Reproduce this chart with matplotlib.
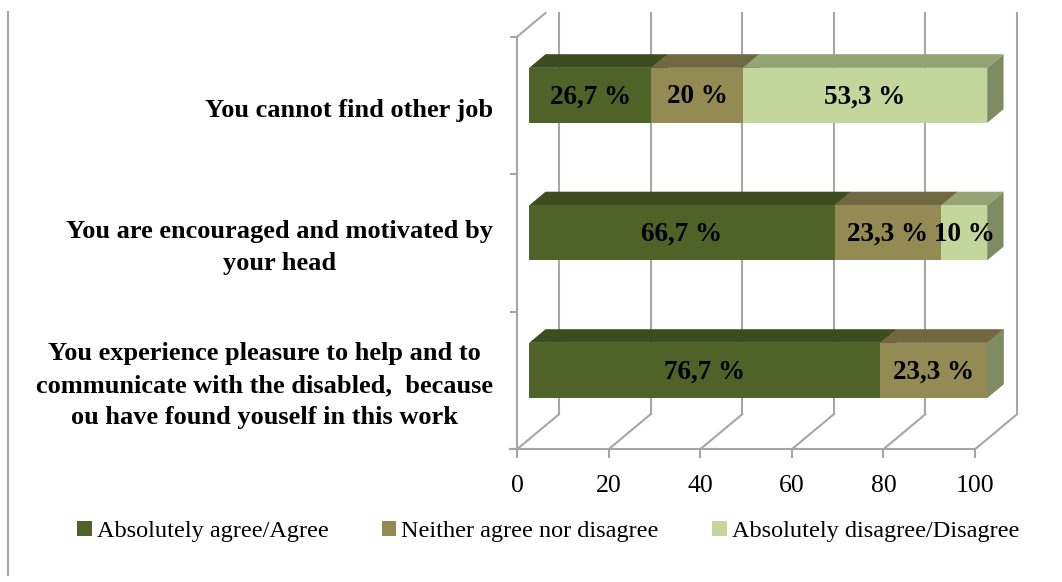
import matplotlib.pyplot as plt
from matplotlib.patches import Polygon
import numpy as np

plt.rcParams['font.family'] = ['Liberation Serif', 'DejaVu Serif']

# categories from bottom to top
categories = [
    "You experience pleasure to help and to\ncommunicate with the disabled,  because\nou have found youself in this work",
    "You are encouraged and motivated by\nyour head",
    "You cannot find other job",
]
series = ["Absolutely agree/Agree", "Neither agree nor disagree", "Absolutely disagree/Disagree"]
agree = [76.7, 66.7, 26.7]
neutral = [23.3, 23.3, 20.0]
disagree = [0.0, 10.0, 53.3]
ticks = [0, 20, 40, 60, 80, 100]

front_colors = ["#4F6228", "#948A54", "#C3D69B"]
top_colors = ["#3E4D20", "#706841", "#95A474"]
side_colors = ["#3A481E", "#6A623D", "#7F8C62"]
grid_color = "#A6A6A6"

# oblique depth: full depth shifts x by DX value units and y by DY category units
DX = 42 / 4.58
DY = 35 / 137.5
D0, D1 = 0.29, 0.68
BAR_H = 0.4

fig = plt.figure(figsize=(10.62, 5.82), dpi=100)
ax = fig.add_axes([0, 0, 1, 1])
ax.set_xlim(-517 / 4.58, (1062 - 517) / 4.58)
ax.set_ylim((380.5 - 582) / 137.5, 380.5 / 137.5)
ax.axis('off')

y_top = (380.5 - 13) / 137.5  # top edge of the plot area
floor = -0.5
lw = 1.5

# floor diagonals and back wall gridlines
for t in ticks:
    ax.plot([t, t + DX], [floor, floor + DY], color=grid_color, lw=lw, zorder=1)
    ax.plot([t + DX, t + DX], [floor + DY, y_top], color=grid_color, lw=lw, zorder=1)
    ax.plot([t, t], [floor, floor - 8 / 137.5], color=grid_color, lw=lw, zorder=1)
    ax.text(t, (380.5 - 486) / 137.5, str(t), ha='center', va='center', fontsize=18.5)

# front floor edge and left axis
ax.plot([-1.6, 100], [floor, floor], color=grid_color, lw=lw, zorder=1)
ax.plot([0, 0], [floor, len(categories) - 0.5], color=grid_color, lw=lw, zorder=1)
for c in np.arange(len(categories) + 1) - 0.5:
    ax.plot([-1.4, 0], [c, c], color=grid_color, lw=lw, zorder=1)
d_clip = (y_top - (len(categories) - 0.5)) / DY
ax.plot([0, DX * d_clip], [len(categories) - 0.5, y_top], color=grid_color, lw=lw, zorder=1)

ypos = np.arange(len(categories))
values = [agree, neutral, disagree]
left = np.zeros(len(categories))
handles = []
for i, vals in enumerate(values):
    vals = np.array(vals)
    bars = ax.barh(ypos + DY * D0, vals, left=left + DX * D0, height=BAR_H,
                   color=front_colors[i], label=series[i])
    handles.append(bars)
    for j, bar in enumerate(bars):
        bar.set_zorder(3 + 3 * i + 2)
        x0 = left[j] + DX * D0
        x1 = x0 + vals[j]
        yb = ypos[j] + DY * D0 - BAR_H / 2
        yt = yb + BAR_H
        ddx, ddy = DX * (D1 - D0), DY * (D1 - D0)
        # top face
        ax.add_patch(Polygon([(x0, yt), (x1, yt), (x1 + ddx, yt + ddy), (x0 + ddx, yt + ddy)],
                             closed=True, facecolor=top_colors[i], edgecolor='none',
                             zorder=3 + 3 * i + 1))
        # right side face
        ax.add_patch(Polygon([(x1, yb), (x1, yt), (x1 + ddx, yt + ddy), (x1 + ddx, yb + ddy)],
                             closed=True, facecolor=side_colors[i], edgecolor='none',
                             zorder=3 + 3 * i))
        if vals[j] > 0:
            txt = f"{vals[j]:g}".replace('.', ',') + " %"
            ax.text(x0 + vals[j] / 2, ypos[j] + DY * D0 - 0.01, txt, ha='center', va='center',
                    fontsize=19.5, fontweight='bold', zorder=20)
    left = left + vals

for j, cat in enumerate(categories):
    ax.text(-5.2, ypos[j] - 0.035, cat, ha='right', va='center', multialignment='center',
            fontsize=19, fontweight='bold', linespacing=1.5)

ax.legend(handles=handles, labels=series, loc='center', bbox_to_anchor=(0.516, 0.087),
          bbox_transform=fig.transFigure, ncol=3, frameon=False, fontsize=17.5,
          handlelength=0.6, handleheight=0.6, handletextpad=0.2, columnspacing=2.2)

# thin frame line at the left edge
fig.add_artist(plt.Line2D([8 / 1062, 8 / 1062], [1 - 575 / 582, 1 - 12 / 582],
                          color=grid_color, lw=1.5, transform=fig.transFigure))

fig.savefig("out.png", dpi=100)
